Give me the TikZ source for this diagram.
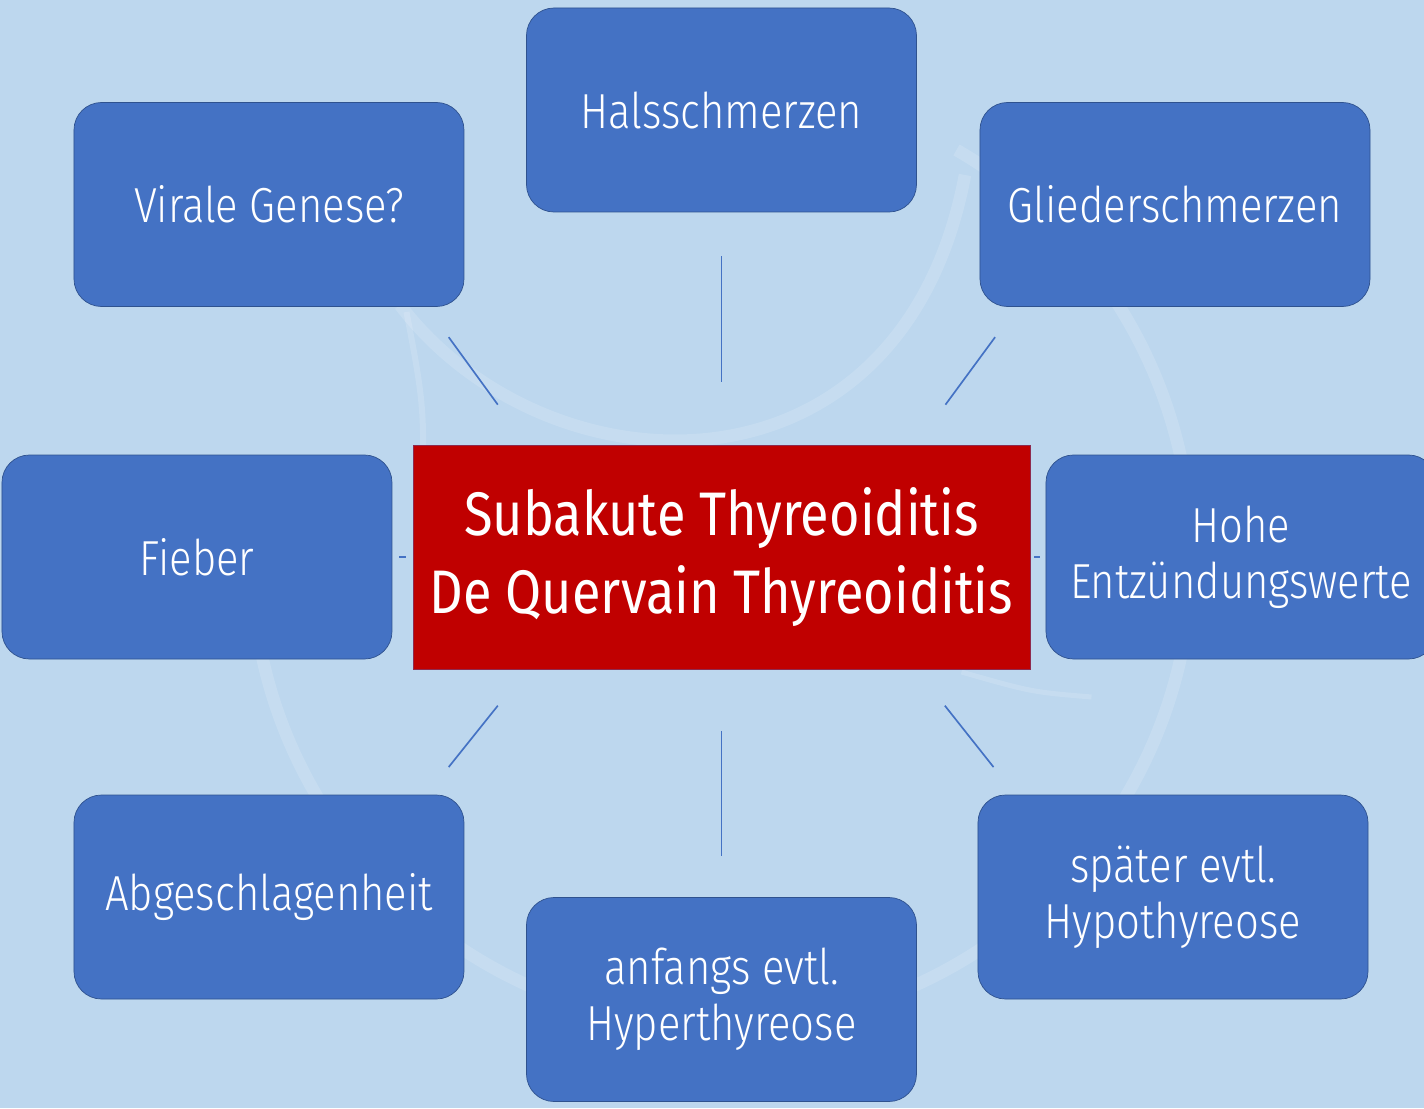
\documentclass[tikz,border=0pt]{standalone}
\usepackage{fontspec}
\setmainfont{Fira Sans Light}[FakeStretch=0.85]
\newfontfamily\corefont{Fira Sans}[FakeStretch=0.85]
\usetikzlibrary{calc,positioning}
\definecolor{backdrop}{HTML}{BDD7EE}
\definecolor{boxblue}{HTML}{4472C4}
\definecolor{boxline}{HTML}{2F528F}
\definecolor{corered}{HTML}{C00000}
\definecolor{coreline}{HTML}{8E2A4E}
\tikzset{%
	symptom/.style   = {draw=boxline, fill=boxblue, rounded corners=0.55cm, minimum width=7.8cm, minimum height=4.08cm, align=center, text=white, font=\fontsize{28}{31.7}\selectfont}, % Satellite
	core/.style      = {draw=coreline, fill=corered, minimum width=12.34cm, minimum height=4.48cm, align=center, text=white, font=\corefont\fontsize{35}{44}\selectfont}, % Centre
	link/.style      = {draw=boxblue, line width=0.95pt}, % Connector
	watermark/.style = {draw=white, draw opacity=0.14}, % Background logo
}

\begin{document}
\begin{tikzpicture}
	\path[use as bounding box, fill=backdrop] (-14.43,-11.02) rectangle (14.05,11.14);
	\draw[watermark, line width=0.25cm] (60:9.4cm) arc[start angle=60, end angle=-170, radius=9.4cm];
	\draw[watermark, line width=0.25cm] (-6.43,5.04) .. controls (-3.5,1.2) and (3.6,0.9) .. (4.87,7.64);
	\draw[watermark, line width=0.12cm] (-6.3,4.9) .. controls (-5.9,2.8) .. (-6.1,-0.3);
	\draw[watermark, line width=0.1cm] (4.8,-2.3) .. controls (6.2,-2.7) .. (7.4,-2.8);

	\node[core] (core) at (0,0) {Subakute Thyreoiditis\\De Quervain Thyreoiditis};
	\node[symptom, above of=core, node distance=8.94cm] (hals) {Halsschmerzen};
	\node[symptom, below of=core, node distance=8.85cm] (anf) {anfangs evtl.\\Hyperthyreose};
	\node[symptom, left of=core, node distance=10.49cm] (fieber) {Fieber};
	\node[symptom, right of=core, node distance=10.39cm] (hohe) {Hohe\\Entzündungswerte};
	\node[symptom] (vir) at (-9.05,7.05) {Virale Genese?};
	\node[symptom] (glied) at (9.07,7.05) {Gliederschmerzen};
	\node[symptom] (abg) at (-9.05,-6.8) {Abgeschlagenheit};
	\node[symptom] (spaet) at (9.03,-6.8) {später evtl.\\Hypothyreose};

	\draw[link] ($(core.north)!0.27!(hals.south)$) -- ($(core.north)!0.81!(hals.south)$);
	\draw[link] ($(core.south)!0.27!(anf.north)$) -- ($(core.south)!0.82!(anf.north)$);
	\draw[link] ($(core.west)!0.33!(fieber.east)$) -- ($(core.west)!0.67!(fieber.east)$);
	\draw[link] ($(core.east)!0.27!(hohe.west)$) -- ($(core.east)!0.62!(hohe.west)$);
	\draw[link] ($(core.150)!0.29!(vir.-33)$) -- ($(core.150)!0.78!(vir.-33)$);
	\draw[link] ($(core.30)!0.29!(glied.-147)$) -- ($(core.30)!0.78!(glied.-147)$);
	\draw[link] ($(core.210)!0.29!(abg.33)$) -- ($(core.210)!0.78!(abg.33)$);
	\draw[link] ($(core.-30)!0.29!(spaet.147)$) -- ($(core.-30)!0.78!(spaet.147)$);
\end{tikzpicture}
\end{document}
